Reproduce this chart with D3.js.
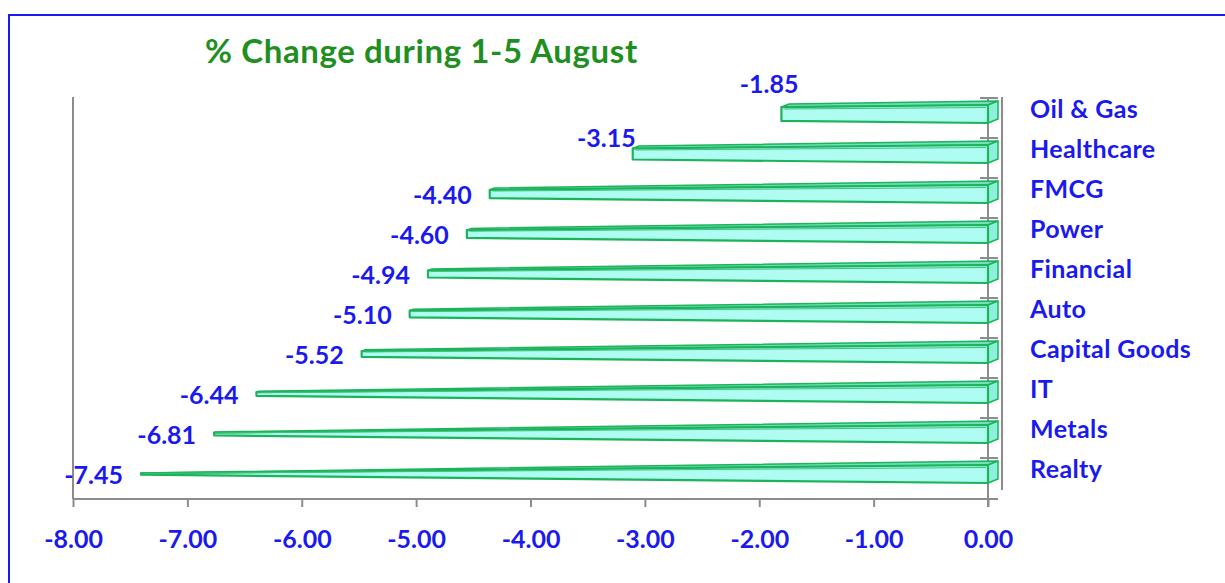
<!DOCTYPE html>
<html>
<head>
<meta charset="utf-8">
<script src="https://cdn.jsdelivr.net/npm/d3@7"></script>
<style>
  body { margin: 0; background: #fff; }
  svg text { font-family: Lato, "Open Sans", sans-serif; font-weight: bold; }
</style>
</head>
<body>
<svg id="chart" width="1225" height="583"></svg>
<script>
// sectors, top to bottom
const sectors = ["Oil & Gas", "Healthcare", "FMCG", "Power", "Financial", "Auto", "Capital Goods", "IT", "Metals", "Realty"];
const changes = [-1.85, -3.15, -4.40, -4.60, -4.94, -5.10, -5.52, -6.44, -6.81, -7.45];
const xTicks = [-8, -7, -6, -5, -4, -3, -2, -1, 0];
const title = "% Change during 1-5 August";

const svg = d3.select("#chart");
const blue = "#1a1aee", green = "#1f8f1f", grey = "#8c8c8c";
// plain hyphen like the original, not the unicode minus
const fmt = v => d3.format(".2f")(v).replace("\u2212", "-");

// outer frame (runs off the picture right and bottom)
svg.append("path")
  .attr("d", "M9,590 L9,15 L1240,15")
  .attr("fill", "none").attr("stroke", blue).attr("stroke-width", 2);

svg.append("text")
  .attr("x", 205).attr("y", 63)
  .attr("fill", green).attr("font-size", 33).attr("letter-spacing", 0.6)
  .text(title);

const x = d3.scaleLinear().domain([-8, 0]).range([73, 988]);
const y = d3.scaleBand().domain(sectors).range([98, 498]);

// walls / axis lines
svg.append("line").attr("x1", 73).attr("x2", 73).attr("y1", 97).attr("y2", 499)
  .attr("stroke", grey).attr("stroke-width", 2);
svg.append("line").attr("x1", 1002).attr("x2", 1002).attr("y1", 97).attr("y2", 490)
  .attr("stroke", grey).attr("stroke-width", 2);

const xAxis = svg.append("g").attr("transform", "translate(0,499)")
  .call(d3.axisBottom(x).tickValues(xTicks).tickSize(8).tickFormat(fmt));
xAxis.select(".domain").attr("d", "M73,0H998").attr("stroke", grey).attr("stroke-width", 2);
xAxis.selectAll(".tick line").attr("stroke", grey).attr("stroke-width", 2);
xAxis.selectAll(".tick text").attr("y", 49).attr("dy", null).attr("fill", blue)
  .attr("font-size", 25).attr("font-family", null);

// category axis at zero
svg.append("line").attr("x1", x(0)).attr("x2", x(0)).attr("y1", 97).attr("y2", 507)
  .attr("stroke", grey).attr("stroke-width", 2);
svg.selectAll(".ctick").data(sectors).enter().append("line")
  .attr("x1", x(0) - 8).attr("x2", x(0) + 10)
  .attr("y1", d => y(d)).attr("y2", d => y(d))
  .attr("stroke", grey).attr("stroke-width", 2);

// tapered 3D bars (pyramid truncated at the max value)
const apex = -8.1, H = 18, dx = 10, dy = 4, inset = 5;
const taper = v => 1 - v / apex;

const bars = svg.append("g");
changes.forEach((v, i) => {
  const cy = y(sectors[i]) + y.bandwidth() / 2 - 4;
  const x0 = x(0), x1 = x(v) + inset;
  const h0 = H, h1 = H * taper(v);
  const d1 = taper(v);
  const g = bars.append("g");
  // top face
  g.append("path")
    .attr("d", `M${x1},${cy - h1 / 2} L${x1 + dx * d1},${cy - h1 / 2 - dy * d1} L${x0 + dx},${cy - h0 / 2 - dy} L${x0},${cy - h0 / 2} Z`)
    .attr("fill", "#6fe0c0").attr("stroke", "#1db35a").attr("stroke-width", 1.5).attr("stroke-linejoin", "round");
  // end face
  g.append("path")
    .attr("d", `M${x0},${cy - h0 / 2} L${x0 + dx},${cy - h0 / 2 - dy} L${x0 + dx},${cy + h0 / 2 - dy} L${x0},${cy + h0 / 2} Z`)
    .attr("fill", "#8cf0dc").attr("stroke", "#1db35a").attr("stroke-width", 1.5).attr("stroke-linejoin", "round");
  // front face
  g.append("path")
    .attr("d", `M${x1},${cy - h1 / 2} L${x0},${cy - h0 / 2} L${x0},${cy + h0 / 2} L${x1},${cy + h1 / 2} Z`)
    .attr("fill", "#aefcf2").attr("stroke", "#1db35a").attr("stroke-width", 2.2).attr("stroke-linejoin", "round");
  // inner highlight edge
  g.append("path")
    .attr("d", `M${x1 + 3},${cy - h1 / 2 + 2.5 * d1} L${x0 - 2},${cy - h0 / 2 + 2.5}`)
    .attr("stroke", "#3fc27a").attr("stroke-width", 1).attr("fill", "none");
});

// value labels (first two were moved by hand in the original)
svg.selectAll(".val").data(changes).enter().append("text")
  .attr("fill", blue).attr("font-size", 25).attr("text-anchor", "end")
  .attr("x", (d, i) => i === 0 ? x(d) + 22 : i === 1 ? x(d) + 8 : x(d) - 13)
  .attr("y", (d, i) => {
    const c = y(sectors[i]) + y.bandwidth() / 2;
    return i === 0 ? c - 25 : i === 1 ? c - 11 : c + 6;
  })
  .text(d => fmt(d));

// category labels
svg.selectAll(".cat").data(sectors).enter().append("text")
  .attr("x", 1030).attr("y", d => y(d) + y.bandwidth() / 2)
  .attr("fill", blue).attr("font-size", 25).attr("letter-spacing", 0.4)
  .text(d => d);
</script>
</body>
</html>
